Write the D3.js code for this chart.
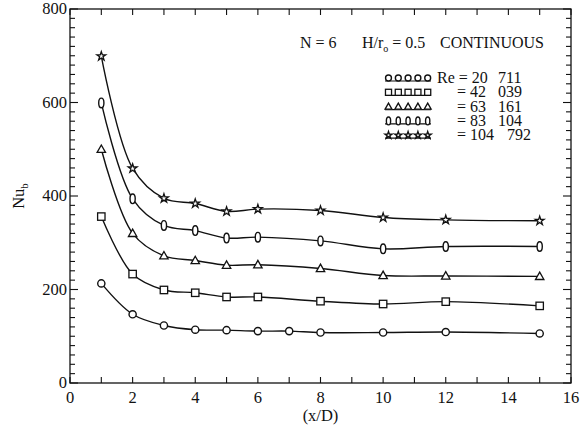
<!DOCTYPE html>
<html>
<head>
<meta charset="utf-8">
<script src="https://cdn.jsdelivr.net/npm/d3@7"></script>
<style>
  body { margin: 0; background: #fff; }
  svg text { font-family: "Liberation Serif", "Times New Roman", serif; fill: #111; }
</style>
</head>
<body>
<div id="chart"></div>
<script>
// x/D positions and Nu_b values
var xs = [1, 2, 3, 4, 5, 6, 7, 8, 10, 12, 15];
var xsShort = [1, 2, 3, 4, 5, 6, 8, 10, 12, 15];

var nuRe20711  = [213, 147, 123, 114, 113, 111, 111, 108, 108, 109, 106];
var nuRe42039  = [356, 233, 199, 193, 184, 184, 175, 169, 174, 165];
var nuRe63161  = [500, 320, 272, 262, 252, 253, 245, 230, 229, 228];
var nuRe83104  = [599, 394, 337, 326, 310, 312, 304, 287, 292, 292];
var nuRe104792 = [699, 459, 395, 384, 367, 372, 369, 354, 349, 347];

var reLeft  = ["Re = 20", "= 42", "= 63", "= 83", "= 104"];
var reRight = ["711", "039", "161", "104", "792"];
var markers = ["circle", "square", "triangle", "diamond", "star"];

var xTicks = [0, 2, 4, 6, 8, 10, 12, 14, 16];
var yTicks = [0, 200, 400, 600, 800];

var W = 586, H = 426;
var mLeft = 70, mRight = 571, mTop = 9, mBottom = 383;

var svg = d3.select("#chart").append("svg")
    .attr("width", W)
    .attr("height", H);

var x = d3.scaleLinear().domain([0, 16]).range([mLeft, mRight]);
var y = d3.scaleLinear().domain([0, 800]).range([mBottom, mTop]);

// frame
svg.append("rect")
    .attr("x", mLeft).attr("y", mTop)
    .attr("width", mRight - mLeft).attr("height", mBottom - mTop)
    .attr("fill", "none").attr("stroke", "#111").attr("stroke-width", 1.3);

// ticks pointing inward on all four sides
var tickG = svg.append("g").attr("stroke", "#111").attr("stroke-width", 1.1);
d3.range(0, 17, 1).forEach(function (t) {
    var len = 6;
    tickG.append("line").attr("x1", x(t)).attr("x2", x(t)).attr("y1", mBottom).attr("y2", mBottom - len);
    tickG.append("line").attr("x1", x(t)).attr("x2", x(t)).attr("y1", mTop).attr("y2", mTop + len);
});
d3.range(0, 801, 20).forEach(function (t) {
    var len = (t % 200 === 0) ? 8 : 5;
    tickG.append("line").attr("x1", mLeft).attr("x2", mLeft + len).attr("y1", y(t)).attr("y2", y(t));
    tickG.append("line").attr("x1", mRight).attr("x2", mRight - len).attr("y1", y(t)).attr("y2", y(t));
});

// tick labels
svg.append("g").selectAll("text")
    .data(xTicks).enter().append("text")
    .attr("x", function (d) { return x(d); })
    .attr("y", mBottom + 20)
    .attr("text-anchor", "middle")
    .attr("font-size", 16.5)
    .text(function (d) { return d; });

svg.append("g").selectAll("text")
    .data(yTicks).enter().append("text")
    .attr("x", mLeft - 3)
    .attr("y", function (d) { return y(d) + 5; })
    .attr("text-anchor", "end")
    .attr("font-size", 16.5)
    .text(function (d) { return d; });

// axis titles
svg.append("text")
    .attr("x", (mLeft + mRight) / 2).attr("y", 421)
    .attr("text-anchor", "middle").attr("font-size", 16.5)
    .text("(x/D)");

var yl = svg.append("text")
    .attr("transform", "translate(24," + y(400) + ") rotate(-90)")
    .attr("text-anchor", "middle").attr("font-size", 16.5);
yl.append("tspan").text("Nu");
yl.append("tspan").attr("font-size", 11).attr("dy", 4).text("b");

// header
svg.append("text").attr("x", 300).attr("y", 48).attr("font-size", 16).text("N = 6");
var hdr = svg.append("text").attr("x", 362).attr("y", 48).attr("font-size", 16);
hdr.append("tspan").text("H/r");
hdr.append("tspan").attr("font-size", 10).attr("dy", 4).text("o");
hdr.append("tspan").attr("dy", -4).text(" = 0.5");
svg.append("text").attr("x", 440).attr("y", 48).attr("font-size", 16).text("CONTINUOUS");

// marker drawing
function drawMarker(g, type, cx, cy, k) {
    k = k || 1;
    var s = "#111";
    if (type === "circle") {
        g.append("circle").attr("cx", cx).attr("cy", cy).attr("r", 3.6 * k)
            .attr("fill", "#fff").attr("stroke", s).attr("stroke-width", 1.4);
    } else if (type === "square") {
        g.append("rect").attr("x", cx - 3.7 * k).attr("y", cy - 3.7 * k).attr("width", 7.4 * k).attr("height", 7.4 * k)
            .attr("fill", "#fff").attr("stroke", s).attr("stroke-width", 1.3);
    } else if (type === "triangle") {
        g.append("path").attr("d", "M" + cx + "," + (cy - 4.3 * k) + "L" + (cx + 4.2 * k) + "," + (cy + 3.1 * k) + "L" + (cx - 4.2 * k) + "," + (cy + 3.1 * k) + "Z")
            .attr("fill", "#fff").attr("stroke", s).attr("stroke-width", 1.3);
    } else if (type === "diamond") {
        g.append("ellipse").attr("cx", cx).attr("cy", cy).attr("rx", 2.6 * k).attr("ry", 4.8 * k)
            .attr("fill", "#fff").attr("stroke", s).attr("stroke-width", 1.4);
    } else {
        g.append("path").attr("d", d3.symbol().type(d3.symbolStar).size(24 * k * k)())
            .attr("transform", "translate(" + cx + "," + cy + ")")
            .attr("fill", "#fff").attr("stroke", s).attr("stroke-width", 1.3);
    }
}

var series = [
    { xs: xs, ys: nuRe20711 },
    { xs: xsShort, ys: nuRe42039 },
    { xs: xsShort, ys: nuRe63161 },
    { xs: xsShort, ys: nuRe83104 },
    { xs: xsShort, ys: nuRe104792 }
];

var line = d3.line()
    .x(function (d) { return x(d[0]); })
    .y(function (d) { return y(d[1]); })
    .curve(d3.curveCatmullRom.alpha(0.5));

var plotG = svg.append("g");
series.forEach(function (sr, i) {
    var pts = sr.xs.map(function (v, j) { return [v, sr.ys[j]]; });
    plotG.append("path").attr("d", line(pts))
        .attr("fill", "none").attr("stroke", "#111").attr("stroke-width", 1.4);
    pts.forEach(function (p) { drawMarker(plotG, markers[i], x(p[0]), y(p[1])); });
});

// legend
var legG = svg.append("g");
markers.forEach(function (m, i) {
    var by = 83 + i * 14.3;
    var my = by - 5;
    legG.append("line").attr("x1", 385).attr("x2", 431).attr("y1", my + 3).attr("y2", my + 3)
        .attr("stroke", "#111").attr("stroke-width", 1.2);
    for (var k = 0; k < 5; k++) drawMarker(legG, m, 388.5 + k * 9.8, my, 0.82);
    legG.append("text").attr("x", i === 0 ? 437 : 457).attr("y", by)
        .attr("font-size", 16).text(reLeft[i]);
    legG.append("text").attr("x", i === 4 ? 507 : 498).attr("y", by)
        .attr("font-size", 16).text(reRight[i]);
});
</script>
</body>
</html>
